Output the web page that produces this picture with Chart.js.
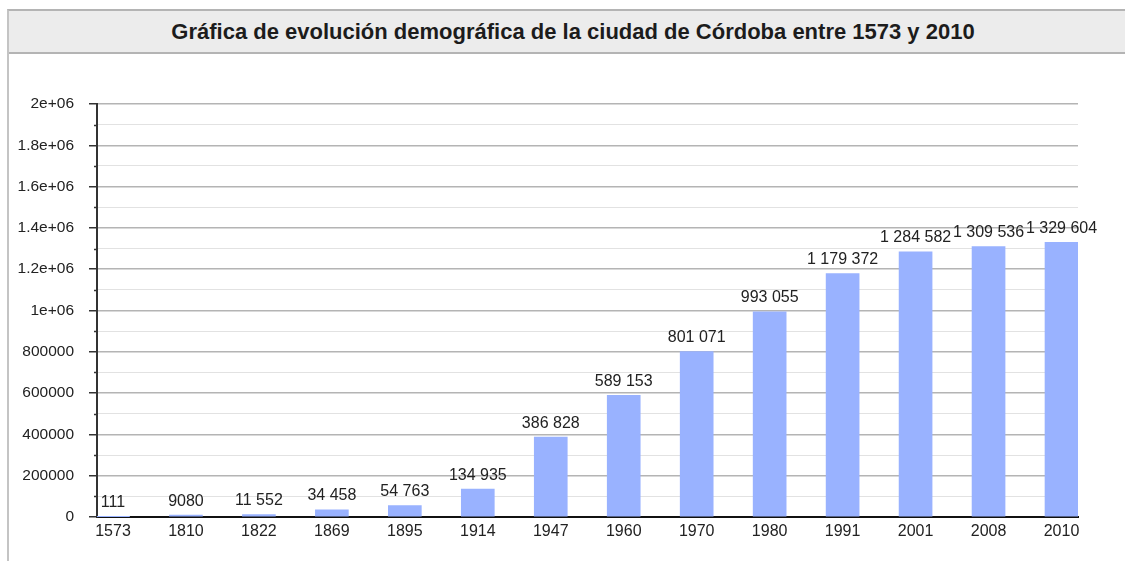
<!DOCTYPE html>
<html>
<head>
<meta charset="utf-8">
<script src="https://cdn.jsdelivr.net/npm/chart.js@4/dist/chart.umd.min.js"></script>
<style>
  html, body { margin: 0; padding: 0; background: #fff; }
  body { width: 1125px; height: 561px; position: relative; overflow: hidden; font-family: "Liberation Sans", Arial, sans-serif; }
  #frame { position: absolute; left: 7px; top: 9px; width: 1140px; height: 600px; border-left: 2px solid #c4c4c4; border-top: 2px solid #b4b4b4; }
  #title { height: 41px; background: #ececec; border-bottom: 2px solid #b4b4b4; text-align: center; line-height: 41px; font-weight: bold; font-size: 22px; color: #1c1c1c; padding-right: 12px; }
  #wrap { position: absolute; left: 0; top: 53px; width: 1125px; height: 508px; }
</style>
</head>
<body>
<div id="frame"><div id="title">Gráfica de evolución demográfica de la ciudad de Córdoba entre 1573 y 2010</div></div>
<div id="wrap"><canvas id="chart" width="1125" height="508"></canvas></div>
<script>
const years = ["1573", "1810", "1822", "1869", "1895", "1914", "1947", "1960", "1970", "1980", "1991", "2001", "2008", "2010"];
const population = [111, 9080, 11552, 34458, 54763, 134935, 386828, 589153, 801071, 993055, 1179372, 1284582, 1309536, 1329604];
const yTicks = [0, 200000, 400000, 600000, 800000, 1000000, 1200000, 1400000, 1600000, 1800000, 2000000];

function fmtValue(n) {
  // 4-digit values keep no separator, larger ones get a space every three digits
  if (n < 10000) return String(n);
  return String(n).replace(/\B(?=(\d{3})+(?!\d))/g, " ");
}
function fmtTick(v) {
  if (v >= 1000000) return (v / 1000000) + "e+06";
  return String(v);
}
const isMajor = function (v) { return yTicks.indexOf(v) !== -1; };

const FONT = "'Liberation Sans', Arial, sans-serif";
const TEXT = "#222";

const extras = {
  id: "extras",
  afterDraw: function (chart) {
    const ctx = chart.ctx;
    const y = chart.scales.y;
    const left = chart.chartArea.left;
    ctx.save();
    // short minor ticks between the labelled ones
    ctx.strokeStyle = "#333";
    ctx.lineWidth = 1.5;
    y.ticks.forEach(function (t) {
      if (isMajor(t.value)) return;
      const py = Math.round(y.getPixelForValue(t.value)) + 0.5;
      ctx.beginPath();
      ctx.moveTo(left - 3, py);
      ctx.lineTo(left, py);
      ctx.stroke();
    });
    // value labels above the bars
    ctx.fillStyle = TEXT;
    ctx.font = "16px " + FONT;
    ctx.textAlign = "center";
    ctx.textBaseline = "middle";
    chart.getDatasetMeta(0).data.forEach(function (bar, i) {
      ctx.fillText(fmtValue(population[i]), bar.x, bar.y - 14);
    });
    ctx.restore();
  },
};

new Chart(document.getElementById("chart"), {
  type: "bar",
  data: {
    datasets: [{
      data: population.map(function (v, i) { return { x: i, y: v }; }),
      backgroundColor: "#99b2ff",
      borderWidth: 0,
      barThickness: 33,
    }],
  },
  options: {
    responsive: false,
    animation: false,
    events: [],
    layout: { padding: { left: 0, right: 47, top: 51, bottom: 14 } },
    plugins: { legend: { display: false }, tooltip: { enabled: false }, title: { display: false } },
    scales: {
      x: {
        type: "linear",
        offset: false,
        min: -0.219,
        max: 13.226,
        afterBuildTicks: function (axis) {
          axis.ticks = years.map(function (_, i) { return { value: i }; });
        },
        afterFit: function (s) { s.height = 30; },
        grid: { display: false, drawTicks: false, offset: false },
        border: { display: true, color: "#111", width: 2 },
        ticks: {
          autoSkip: false,
          maxRotation: 0,
          padding: 5,
          color: TEXT,
          font: { family: FONT, size: 16 },
          callback: function (v) { return years[v]; },
        },
      },
      y: {
        min: 0,
        max: 2000000,
        afterFit: function (s) { s.width = 97; },
        afterBuildTicks: function (axis) {
          const t = [];
          for (let v = 0; v <= 2000000; v += 100000) t.push({ value: v });
          axis.ticks = t;
        },
        border: { display: true, color: "#333", width: 2 },
        grid: {
          color: function (c) {
            if (c.tick.value === 0) return "rgba(0,0,0,0)";
            return isMajor(c.tick.value) ? "#b4b4b4" : "#e2e2e2";
          },
          lineWidth: function (c) { return isMajor(c.tick.value) ? 1.5 : 1; },
          tickColor: function (c) { return isMajor(c.tick.value) ? "#333" : "rgba(0,0,0,0)"; },
          tickLength: 8,
          tickWidth: 1.5,
        },
        ticks: {
          autoSkip: false,
          padding: 15,
          color: TEXT,
          font: { family: FONT, size: 15.5 },
          callback: function (v) { return isMajor(v) ? fmtTick(v) : ""; },
        },
      },
    },
  },
  plugins: [extras],
});
</script>
</body>
</html>
